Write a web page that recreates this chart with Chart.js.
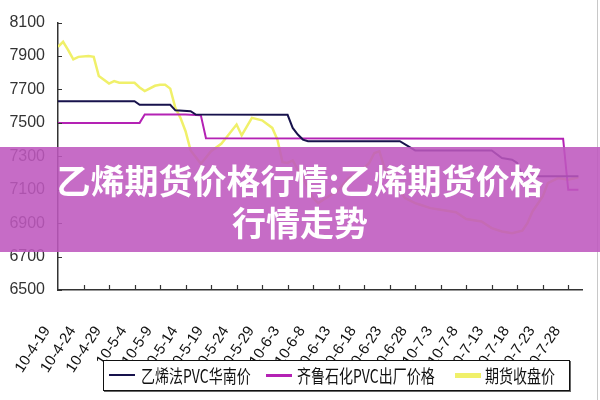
<!DOCTYPE html>
<html>
<head>
<meta charset="utf-8">
<script src="https://cdn.jsdelivr.net/npm/chart.js@4"></script>
<style>
  body { margin: 0; background: #fff; }
  #wrap { position: relative; width: 600px; height: 400px; overflow: hidden; }
  #edge { position: absolute; left: 597px; top: 0; width: 1px; height: 400px; background: #c8c8c8; }
  #banner {
    position: absolute; left: 0; top: 147px; width: 600px; height: 105px;
    background: rgba(190, 88, 190, 0.88);
    color: #fff; text-align: center;
    font: bold 34px "Noto Sans CJK SC", sans-serif; line-height: 42px;
    padding-top: 12px; box-sizing: border-box;
  }
  #legend {
    position: absolute; left: 103px; top: 360px; width: 467px; height: 31px;
    border: 1px solid #111; background: #fff; box-sizing: border-box;
    box-shadow: 1px 1px 0 #666;
  }
  .swatch { position: absolute; top: 14px; width: 26px; }
  .txt {
    position: absolute; top: 5px; white-space: nowrap; color: #111;
    font: 14px "Noto Sans CJK SC", sans-serif; line-height: 18px;
    transform: scaleY(1.3); transform-origin: left center;
  }
</style>
</head>
<body>
<div id="wrap">
  <canvas id="chart" width="600" height="400"></canvas>
  <div id="edge"></div>
  <div id="legend"></div>
  <div id="banner">乙烯期货价格行情:乙烯期货价格<br>行情走势</div>
</div>
<script>
// x values are days counted from 2010-4-19
const dateLabels = ['10-4-19', '10-4-24', '10-4-29', '10-5-4', '10-5-9', '10-5-14', '10-5-19',
    '10-5-24', '10-5-29', '10-6-3', '10-6-8', '10-6-13', '10-6-18', '10-6-23', '10-6-28',
    '10-7-3', '10-7-8', '10-7-13', '10-7-18', '10-7-23', '10-7-28'];
const yTicks = [6500, 6700, 6900, 7100, 7300, 7500, 7700, 7900, 8100];

const seriesNames = ['乙烯法PVC华南价', '齐鲁石化PVC出厂价格', '期货收盘价'];
const seriesColors = ['#17124c', '#b422b4', '#f0f06a'];

const southDays = [0, 15, 16, 22, 23, 26, 27, 45, 46, 47, 48, 49, 67, 70, 85, 87, 89, 90, 91, 102];
const southPrice = [7630, 7630, 7608, 7608, 7575, 7570, 7550, 7548, 7470, 7430, 7400, 7390, 7390, 7335, 7335, 7290, 7280, 7260, 7180, 7180];

const qiluDays = [0, 16, 17, 25, 28, 29, 99, 100, 102];
const qiluPrice = [7500, 7500, 7550, 7550, 7545, 7408, 7405, 7100, 7100];

const futDays = [0, 1, 2, 3, 4, 6, 7, 8, 10, 11, 12, 15, 16, 17, 19, 20, 21, 22, 23, 24, 25, 26, 28,
    30, 32, 33, 35, 36, 38, 40, 42, 43, 44, 45, 46, 47, 48, 49, 50, 51, 52, 55, 57, 59, 61, 62, 63,
    64, 66, 68, 70, 71, 73, 75, 78, 80, 83, 85, 87, 89, 91, 92, 93, 95, 96, 98, 100, 102];
const futPrice = [7955, 7985, 7935, 7880, 7895, 7900, 7895, 7780, 7735, 7750, 7740, 7740, 7712, 7690,
    7722, 7728, 7728, 7705, 7590, 7530, 7450, 7335, 7255, 7330, 7375, 7413, 7490, 7425, 7530, 7515,
    7470, 7400, 7265, 7260, 7275, 7220, 7170, 7110, 7050, 7020, 7040, 7100, 7170, 7200, 7260, 7320,
    7330, 7230, 7130, 7050, 7020, 7010, 6990, 6980, 6965, 6925, 6910, 6870, 6850, 6840, 6855, 6900,
    6970, 7060, 7140, 7170, 7160, 7175];

function toPoints(days, prices) {
    return days.map((d, i) => ({ x: d, y: prices[i] }));
}

// small tick marks pointing into the plot, like the original
const innerTicks = {
    id: 'innerTicks',
    afterDraw(chart) {
        const ctx = chart.ctx;
        const xs = chart.scales.x;
        const ys = chart.scales.y;
        ctx.save();
        ctx.strokeStyle = '#333';
        ctx.lineWidth = 1.2;
        ctx.beginPath();
        yTicks.forEach(v => {
            const py = Math.round(ys.getPixelForValue(v)) + 0.5;
            ctx.moveTo(xs.left, py);
            ctx.lineTo(xs.left + 4, py);
        });
        dateLabels.forEach((_, i) => {
            if (i === 0) return;
            const px = Math.round(xs.getPixelForValue(i * 5)) + 0.5;
            ctx.moveTo(px, ys.bottom);
            ctx.lineTo(px, ys.bottom - 5);
        });
        ctx.stroke();
        ctx.restore();
    }
};

new Chart(document.getElementById('chart'), {
    type: 'line',
    data: {
        datasets: [
            { label: seriesNames[0], data: toPoints(southDays, southPrice), borderColor: seriesColors[0], borderWidth: 2 },
            { label: seriesNames[1], data: toPoints(qiluDays, qiluPrice), borderColor: seriesColors[1], borderWidth: 2 },
            { label: seriesNames[2], data: toPoints(futDays, futPrice), borderColor: seriesColors[2], borderWidth: 2.5 }
        ]
    },
    options: {
        responsive: false,
        animation: false,
        devicePixelRatio: 1,
        elements: { point: { radius: 0 }, line: { tension: 0 } },
        layout: { padding: { top: 15, right: 18, left: 0, bottom: 0 } },
        plugins: { legend: { display: false }, tooltip: { enabled: false } },
        scales: {
            x: {
                type: 'linear',
                min: 0,
                max: 102.7,
                afterFit: scale => {
                    scale.height = 110;
                    scale.paddingLeft = 0;
                    scale.paddingRight = 0;
                },
                afterBuildTicks: scale => {
                    scale.ticks = dateLabels.map((_, i) => ({ value: i * 5 }));
                },
                grid: { drawOnChartArea: false, drawTicks: false },
                border: { color: '#333', width: 1.5 },
                ticks: {
                    autoSkip: false,
                    minRotation: 57,
                    maxRotation: 57,
                    padding: 33,
                    labelOffset: -11,
                    color: '#111',
                    font: { family: 'Liberation Sans', size: 15 },
                    callback: v => dateLabels[Math.round(v / 5)]
                }
            },
            y: {
                min: 6500,
                max: 8100,
                afterFit: scale => { scale.width = 58; },
                afterBuildTicks: scale => {
                    scale.ticks = yTicks.map(v => ({ value: v }));
                },
                grid: { drawOnChartArea: false, drawTicks: false },
                border: { color: '#333', width: 1.5 },
                ticks: {
                    padding: 13,
                    color: '#333',
                    font: { family: 'Liberation Sans', size: 16 },
                    callback: v => String(v)
                }
            }
        }
    },
    plugins: [innerTicks]
});

// legend box drawn over the lower labels, as in the source image
const legend = document.getElementById('legend');
const swatchX = [5, 162, 351];
const textX = [37, 193, 381];
const swatchH = [2, 3, 5];
seriesNames.forEach((name, i) => {
    const sw = document.createElement('div');
    sw.className = 'swatch';
    sw.style.left = swatchX[i] + 'px';
    sw.style.height = swatchH[i] + 'px';
    sw.style.marginTop = (-swatchH[i] / 2) + 'px';
    sw.style.background = seriesColors[i];
    legend.appendChild(sw);
    const tx = document.createElement('div');
    tx.className = 'txt';
    tx.style.left = textX[i] + 'px';
    tx.textContent = name;
    legend.appendChild(tx);
});
</script>
</body>
</html>
